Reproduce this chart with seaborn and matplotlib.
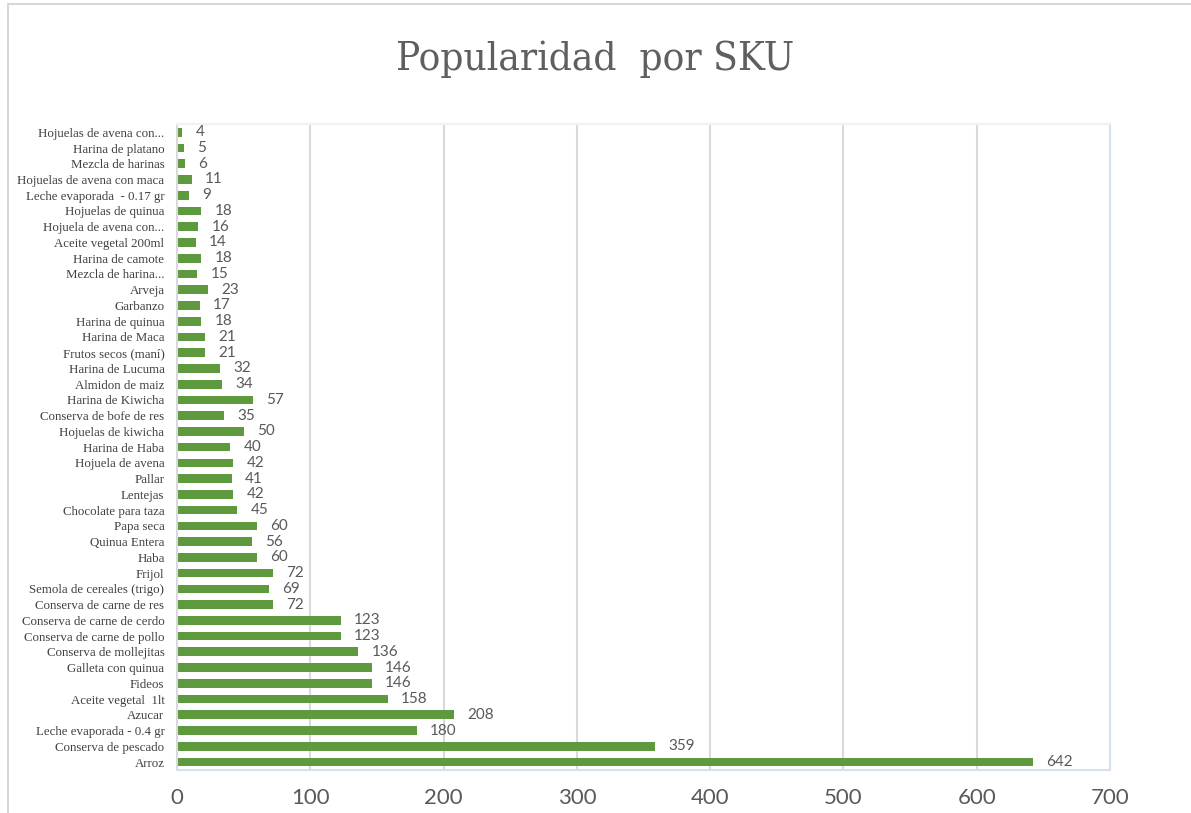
"""Popularidad por SKU - horizontal bar chart."""

import matplotlib
matplotlib.use("Agg")
import matplotlib.pyplot as plt
import matplotlib.patches as mpatches
import pandas as pd
import seaborn as sns

# Data, top to bottom as shown in the chart
skus = [
    "Hojuelas de avena con...",
    "Harina de platano",
    "Mezcla de harinas",
    "Hojuelas de avena con maca",
    "Leche evaporada  - 0.17 gr",
    "Hojuelas de quinua",
    "Hojuela de avena con...",
    "Aceite vegetal 200ml",
    "Harina de camote",
    "Mezcla de harina...",
    "Arveja",
    "Garbanzo",
    "Harina de quinua",
    "Harina de Maca",
    "Frutos secos (maní)",
    "Harina de Lucuma",
    "Almidon de maiz",
    "Harina de Kiwicha",
    "Conserva de bofe de res",
    "Hojuelas de kiwicha",
    "Harina de Haba",
    "Hojuela de avena",
    "Pallar",
    "Lentejas",
    "Chocolate para taza",
    "Papa seca",
    "Quinua Entera",
    "Haba",
    "Frijol",
    "Semola de cereales (trigo)",
    "Conserva de carne de res",
    "Conserva de carne de cerdo",
    "Conserva de carne de pollo",
    "Conserva de mollejitas",
    "Galleta con quinua",
    "Fideos",
    "Aceite vegetal  1lt",
    "Azucar",
    "Leche evaporada - 0.4 gr",
    "Conserva de pescado",
    "Arroz",
]
popularity = [
    4, 5, 6, 11, 9, 18, 16, 14, 18, 15,
    23, 17, 18, 21, 21, 32, 34, 57, 35, 50,
    40, 42, 41, 42, 45, 60, 56, 60, 72, 69,
    72, 123, 123, 136, 146, 146, 158, 208, 180, 359,
    642,
]
x_ticks = [0, 100, 200, 300, 400, 500, 600, 700]

BAR_COLOR = "#5E9A3D"
TEXT_COLOR = "#595959"

sns.set_style("white")
plt.rcParams["font.family"] = ["DejaVu Sans"]

df = pd.DataFrame({"sku": skus, "popularidad": popularity})

fig = plt.figure(figsize=(11.91, 8.13), dpi=100)
ax = fig.add_axes([0.1486, 0.053, 0.7834, 0.794])

sns.barplot(
    data=df, x="popularidad", y="sku", orient="h",
    color=BAR_COLOR, width=0.55, saturation=1, linewidth=0, ax=ax,
)

ax.set_xlim(0, 700)
ax.set_ylim(len(skus) - 0.5, -0.5)
ax.set_xticks(x_ticks)
ax.set_xticklabels([str(t) for t in x_ticks], fontsize=16,
                   color=TEXT_COLOR, family="Lato")
ax.tick_params(axis="x", length=0, pad=13)
ax.tick_params(axis="y", length=0, pad=9)
for lab in ax.get_yticklabels():
    lab.set_fontsize(9.3)
    lab.set_family("Liberation Serif")
    lab.set_color("#404040")

ax.set_xlabel("")
ax.set_ylabel("")

# Vertical gridlines
for t in x_ticks:
    ax.axvline(t, color="#D9D9D9", linewidth=1.5, zorder=0)

# Plot area frame in pale blue
for side in ["top", "right", "bottom"]:
    ax.spines[side].set_color("#D6E0F0")
    ax.spines[side].set_linewidth(1.5)
ax.spines["top"].set_color("#EEF2F8")
ax.spines["left"].set_color("#D9D9D9")
ax.spines["left"].set_linewidth(1.5)

# Value labels
for i, v in enumerate(popularity):
    ax.text(v + 10, i, f"{v}", va="center", ha="left",
            fontsize=11, color=TEXT_COLOR, family="Lato")

fig.suptitle("Popularidad  por SKU", y=0.95, fontsize=29,
             color="#5F5F5F", family="DejaVu Serif", fontstretch="condensed")

# Outer chart border (top and left edges visible)
fig.patches.append(mpatches.Rectangle(
    (8 / 1191, -0.05), 1.2, 1 - 4 / 813 + 0.05,
    transform=fig.transFigure, fill=False, edgecolor="#D0D0D0", linewidth=1.2,
))

fig.savefig("out.png", dpi=100)
plt.close(fig)
